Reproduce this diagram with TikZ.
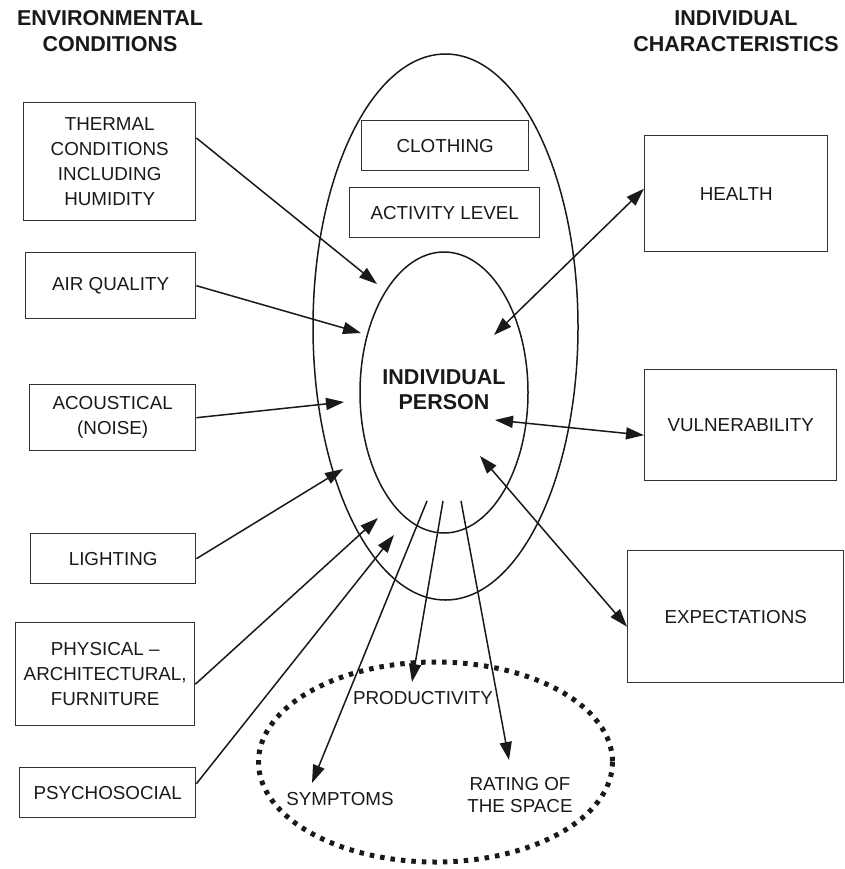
\documentclass[tikz,border=0pt]{standalone}
\usepackage{fontspec}
\setmainfont{Liberation Sans}
\usetikzlibrary{arrows.meta,calc}
\tikzset{
  box/.style={draw=black!80, line width=1.4pt, anchor=north west, inner sep=0pt, align=center,
    font=\fontsize{18.8}{25}\selectfont, text=black!90},
  ttl/.style={align=center, font=\bfseries\fontsize{21.5}{26}\selectfont, text=black!90},
  lbl/.style={align=center, font=\fontsize{18.8}{22}\selectfont, text=black!90},
  tip/.tip={Triangle[length=18pt,width=12pt]},
  arr/.style={line width=1.5pt, draw=black!90, -tip},
  darr/.style={line width=1.5pt, draw=black!90, tip-tip},
  ring/.style={draw=black!90, line width=1.5pt},
}
\begin{document}
\begin{tikzpicture}[x=1pt,y=-1pt]
\useasboundingbox (0,0) rectangle (844,869);
% ellipses
\draw[ring] (445.5,327) ellipse [x radius=132.5, y radius=273];
\draw[ring] (444,392.5) ellipse [x radius=84, y radius=140.5];
\draw[black!90, line width=5pt, dash pattern=on 4.5pt off 6pt] (435.5,762) ellipse [x radius=177, y radius=100];
% titles
\node[ttl] (envt) at (110,31) {ENVIRONMENTAL\\CONDITIONS};
\node[ttl] (indt) at (736,31) {INDIVIDUAL\\CHARACTERISTICS};
% left boxes
\node[box, minimum width=172, minimum height=118] (thermal) at (23,102) {THERMAL\\CONDITIONS\\INCLUDING\\HUMIDITY};
\node[box, minimum width=170, minimum height=66] (air) at (25,252) {AIR QUALITY};
\node[box, minimum width=166, minimum height=66] (acou) at (29,384) {ACOUSTICAL\\(NOISE)};
\node[box, minimum width=165, minimum height=50] (light) at (30,533) {LIGHTING};
\node[box, minimum width=179, minimum height=103] (phys) at (15,622) {PHYSICAL --\\ARCHITECTURAL,\\FURNITURE};
\node[box, minimum width=176, minimum height=50] (psych) at (19,767) {PSYCHOSOCIAL};
% inner boxes
\node[box, minimum width=167, minimum height=50] (cloth) at (361,120) {CLOTHING};
\node[box, minimum width=190, minimum height=50] (act) at (349,187) {ACTIVITY LEVEL};
% right boxes
\node[box, minimum width=183, minimum height=116] (health) at (644,135) {HEALTH};
\node[box, minimum width=192, minimum height=111] (vuln) at (644,369) {VULNERABILITY};
\node[box, minimum width=216, minimum height=132] (expect) at (627,550) {EXPECTATIONS};
% person
\node[align=center, font=\bfseries\fontsize{21.5}{25}\selectfont, text=black!90] (person) at (444,390) {INDIVIDUAL\\PERSON};
% outcome labels
\node[lbl] (prod) at (423,698) {PRODUCTIVITY};
\node[lbl] (symp) at (340,799) {SYMPTOMS};
\node[lbl] (rate) at (520,795) {RATING OF\\THE SPACE};
% tip coordinates
\coordinate (tThermal) at (377,284);
\coordinate (tAir) at (361,333);
\coordinate (tAcou) at (344,402);
\coordinate (tLight) at (343,469);
\coordinate (tPhys) at (378,518);
\coordinate (tPsych) at (394,535);
\coordinate (pHealth) at (494,335);
\coordinate (pVuln) at (495,420);
\coordinate (pExp) at (480,456);
\coordinate (oSymp) at (427,501);
\coordinate (oProd) at (443,501);
\coordinate (oRate) at (461,501);
\coordinate (eSymp) at (312,783);
\coordinate (eProd) at (412,682);
\coordinate (eRate) at (509,760);
% inputs
\draw[arr] ($(thermal.north east)+(0,36)$) -- (tThermal);
\draw[arr] (air.east) -- (tAir);
\draw[arr] (acou.east) -- (tAcou);
\draw[arr] (light.east) -- (tLight);
\draw[arr] ($(phys.east)+(0,10)$) -- (tPhys);
\draw[arr] ($(psych.east)+(0,-9)$) -- (tPsych);
% characteristics
\draw[darr] (pHealth) -- ($(health.west)+(0,-5)$);
\draw[darr] (pVuln) -- ($(vuln.west)+(0,10)$);
\draw[darr] (pExp) -- ($(expect.west)+(0,10)$);
% outcomes
\draw[arr] (oSymp) -- (eSymp);
\draw[arr] (oProd) -- (eProd);
\draw[arr] (oRate) -- (eRate);
\end{tikzpicture}
\end{document}
